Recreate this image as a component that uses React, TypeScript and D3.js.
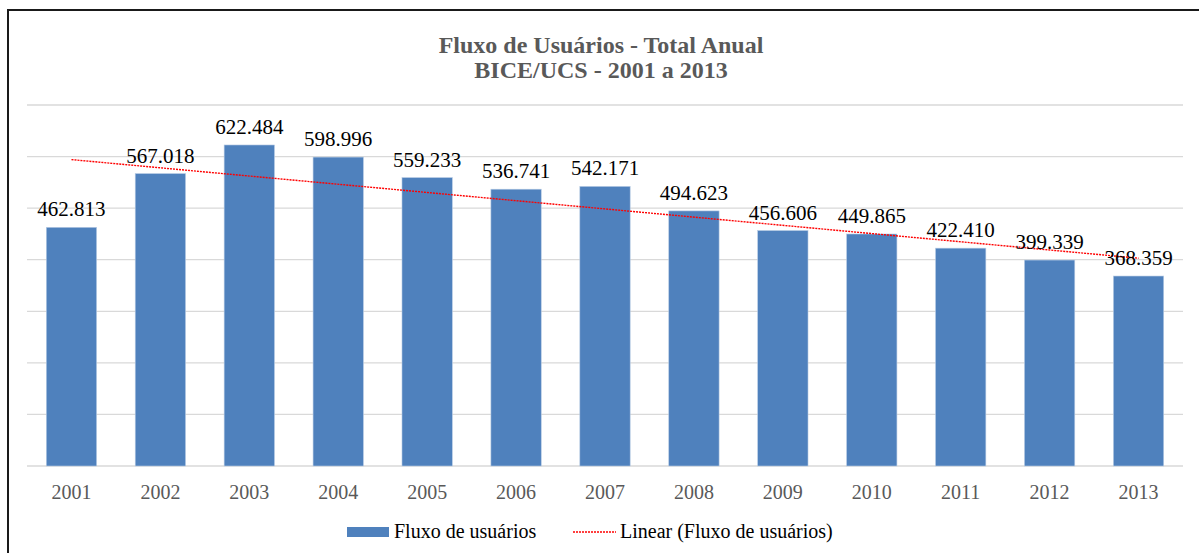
import React from "react";
import * as d3 from "d3";

const years = ["2001","2002","2003","2004","2005","2006","2007","2008","2009","2010","2011","2012","2013"];
const values = [462813,567018,622484,598996,559233,536741,542171,494623,456606,449865,422410,399339,368359];
const labels = ["462.813","567.018","622.484","598.996","559.233","536.741","542.171","494.623","456.606","449.865","422.410","399.339","368.359"];
const gridTicks = [0,100000,200000,300000,400000,500000,600000,700000];
const titleLines = ["Fluxo de Usuários - Total Anual","BICE/UCS - 2001 a 2013"];
const seriesName = "Fluxo de usuários";
const trendName = "Linear (Fluxo de usuários)";

const W = 1199, H = 553;
const font = "'Liberation Serif', 'Times New Roman', serif";

export default function App() {
  const x = d3.scaleBand<string>().domain(years).range([27, 1183]).paddingInner(0.434).paddingOuter(0.217);
  const y = d3.scaleLinear().domain([0, 700000]).range([466, 105]);

  // linear trendline (least squares)
  const n = values.length;
  const xs = values.map((_, i) => i + 1);
  const mx = d3.mean(xs)!, my = d3.mean(values)!;
  const sxy = d3.sum(xs.map((xi, i) => (xi - mx) * (values[i] - my)));
  const sxx = d3.sum(xs.map((xi) => (xi - mx) ** 2));
  const slope = sxy / sxx, icpt = my - slope * mx;
  const trendPts: [number, number][] = [
    [x(years[0])! + x.bandwidth() / 2, y(icpt + slope * 1)],
    [x(years[n - 1])! + x.bandwidth() / 2, y(icpt + slope * n)],
  ];
  const line = d3.line();

  return (
    <svg width={W} height={H} style={{ position: "absolute", left: 0, top: 0, display: "block", background: "#fff" }} fontFamily={font}>
      <rect x={0} y={0} width={W} height={H} fill="#fff" />
      <rect x={8} y={10} width={W + 20} height={H + 20} fill="none" stroke="#1a1a1a" strokeWidth={2} />
      {titleLines.map((t, i) => (
        <text key={t} x={601} y={53 + i * 25} textAnchor="middle" fontWeight="bold" fontSize={24} fill="#595959" fontFamily={font}>{t}</text>
      ))}
      {gridTicks.map((t) => (
        <line key={t} x1={27} x2={1183} y1={y(t)} y2={y(t)} stroke="#d9d9d9" strokeWidth={1.3} />
      ))}
      {values.map((v, i) => (
        <rect key={years[i]} x={x(years[i])} y={y(v)} width={x.bandwidth()} height={y(0) - y(v)} fill="#4f81bd" stroke="#b8cce4" strokeWidth={0.6} />
      ))}
      <path d={line(trendPts)!} stroke="#ff0000" strokeWidth={1.4} strokeDasharray="2 1" fill="none" />
      {values.map((v, i) => (
        <text key={"l" + i} x={x(years[i])! + x.bandwidth() / 2} y={y(v) - 11} textAnchor="middle" fontSize={21} fill="#000" fontFamily={font}>{labels[i]}</text>
      ))}
      {years.map((yr) => (
        <text key={"t" + yr} x={x(yr)! + x.bandwidth() / 2} y={499} textAnchor="middle" fontSize={20} fill="#595959" fontFamily={font}>{yr}</text>
      ))}
      <rect x={347} y={527} width={42} height={10} fill="#4f81bd" />
      <text x={394} y={538} fontSize={20} fill="#000" fontFamily={font}>{seriesName}</text>
      <line x1={573} x2={616} y1={532} y2={532} stroke="#ff0000" strokeWidth={1.4} strokeDasharray="2 1" />
      <text x={620} y={538} fontSize={20} fill="#000" fontFamily={font}>{trendName}</text>
    </svg>
  );
}
